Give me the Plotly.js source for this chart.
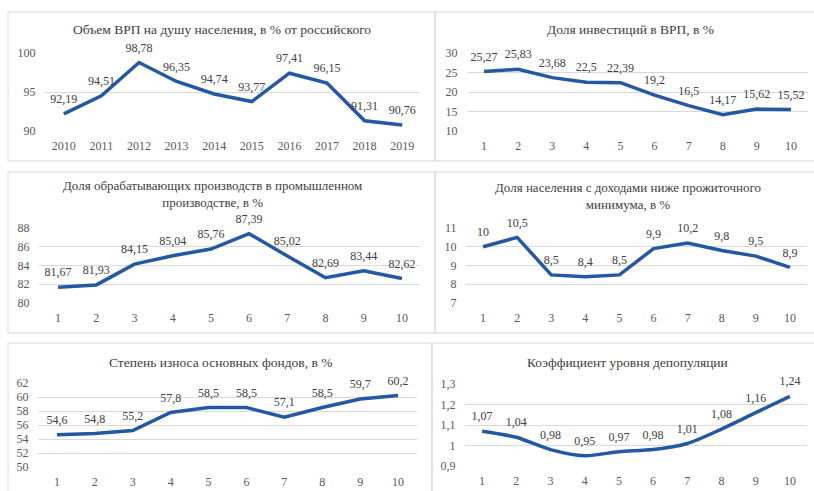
<!DOCTYPE html>
<html>
<head>
<meta charset="utf-8">
<script src="https://cdn.plot.ly/plotly-3.0.1.min.js"></script>
<style>html,body{margin:0;padding:0;background:#fff;}#chart{width:814px;height:491px;}</style>
</head>
<body>
<div id="chart"></div>
<script>
// ---- data ----
const years = ['2010','2011','2012','2013','2014','2015','2016','2017','2018','2019'];
const periods = ['1','2','3','4','5','6','7','8','9','10'];
const grpPerCapita = [92.19, 94.51, 98.78, 96.35, 94.74, 93.77, 97.41, 96.15, 91.31, 90.76];
const investShare = [25.27, 25.83, 23.68, 22.5, 22.39, 19.2, 16.5, 14.17, 15.62, 15.52];
const manufShare = [81.67, 81.93, 84.15, 85.04, 85.76, 87.39, 85.02, 82.69, 83.44, 82.62];
const povertyShare = [10, 10.5, 8.5, 8.4, 8.5, 9.9, 10.2, 9.8, 9.5, 8.9];
const assetWear = [54.6, 54.8, 55.2, 57.8, 58.5, 58.5, 57.1, 58.5, 59.7, 60.2];
const depopCoef = [1.07, 1.04, 0.98, 0.95, 0.97, 0.98, 1.01, 1.08, 1.16, 1.24];
const titles = [
  'Объем ВРП на душу населения, в % от российского',
  'Доля инвестиций в ВРП, в %',
  'Доля обрабатывающих производств в промышленном<br>производстве, в %',
  'Доля населения с доходами ниже прожиточного<br>минимума, в %',
  'Степень износа основных фондов, в %',
  'Коэффициент уровня депопуляции'
];

// ---- layout helpers ----
const W = 814, H = 491;
const fx = p => p / W;
const fy = p => 1 - p / H;
const FONT = '"Liberation Serif", "Times New Roman", serif';
const LINE = '#2457a4';
const GRID = '#d9d9d9';

const panels = [
  {cats: years,   vals: grpPerCapita, range: [90, 100], dtick: 5,   xd: [45, 421],  yd: [53, 131],  title: titles[0], tx: 222, ty: 30,  ts: 13.5, shape: 'linear'},
  {cats: periods, vals: investShare,  range: [10, 30],  dtick: 5,   xd: [467, 808], yd: [53, 131],  title: titles[1], tx: 630, ty: 30,  ts: 13.5, shape: 'linear'},
  {cats: periods, vals: manufShare,   range: [80, 88],  dtick: 2,   xd: [39, 421],  yd: [228, 303], title: titles[2], tx: 212, ty: 194, ts: 13,   shape: 'linear'},
  {cats: periods, vals: povertyShare, range: [7, 11],   dtick: 1,   xd: [466, 807], yd: [228, 303], title: titles[3], tx: 628, ty: 196, ts: 13,   shape: 'linear'},
  {cats: periods, vals: assetWear,    range: [50, 62],  dtick: 2,   xd: [38, 417],  yd: [383, 467], title: titles[4], tx: 220, ty: 362, ts: 13.5, shape: 'linear'},
  {cats: periods, vals: depopCoef,    range: [0.9, 1.3], dtick: 0.1, xd: [465, 807], yd: [384, 466], title: titles[5], tx: 627, ty: 362, ts: 13.5, shape: 'spline'}
];

const boxes = [
  [8, 12, 435, 161], [435, 12, 816, 161],
  [8, 172, 435, 333], [435, 172, 816, 333],
  [8, 343, 432, 500], [432, 343, 816, 500]
];

const traces = [];
const layout = {
  width: W, height: H,
  margin: {l: 0, r: 0, t: 0, b: 0},
  paper_bgcolor: '#ffffff',
  plot_bgcolor: 'rgba(0,0,0,0)',
  showlegend: false,
  separators: ', ',
  font: {family: FONT, size: 12, color: '#404040'},
  annotations: [],
  shapes: boxes.map(b => ({
    type: 'rect', xref: 'paper', yref: 'paper',
    x0: fx(b[0]), x1: fx(b[2]), y0: fy(b[3]), y1: fy(b[1]),
    line: {color: GRID, width: 1}, fillcolor: 'rgba(0,0,0,0)', layer: 'below'
  }))
};

panels.forEach((p, i) => {
  const n = i + 1;
  const xa = n === 1 ? 'xaxis' : 'xaxis' + n;
  const ya = n === 1 ? 'yaxis' : 'yaxis' + n;
  traces.push({
    type: 'scatter',
    mode: 'lines+markers+text',
    x: p.cats, y: p.vals,
    xaxis: 'x' + (n === 1 ? '' : n), yaxis: 'y' + (n === 1 ? '' : n),
    line: {color: LINE, width: 3.5, shape: p.shape, smoothing: 0.8},
    marker: {size: 11, color: 'rgba(0,0,0,0)'},
    text: p.vals.map(v => String(v).replace('.', ',')),
    textposition: 'top center',
    textfont: {family: FONT, size: 12, color: '#404040'},
    cliponaxis: false,
    hoverinfo: 'skip'
  });
  layout[xa] = {
    domain: [fx(p.xd[0]), fx(p.xd[1])],
    anchor: 'y' + (n === 1 ? '' : n),
    type: 'category',
    range: [-0.5, p.cats.length - 0.5],
    showgrid: false, zeroline: false, showline: false,
    ticks: 'outside', ticklen: 4, tickcolor: 'rgba(0,0,0,0)',
    tickfont: {family: FONT, size: 12, color: '#595959'},
    fixedrange: true
  };
  layout[ya] = {
    domain: [fy(p.yd[1]), fy(p.yd[0])],
    anchor: 'x' + (n === 1 ? '' : n),
    range: p.range, dtick: p.dtick, tick0: p.range[0],
    showgrid: true, gridcolor: GRID, gridwidth: 1,
    zeroline: false, showline: false,
    ticks: 'outside', ticklen: 6, tickcolor: 'rgba(0,0,0,0)',
    tickfont: {family: FONT, size: 12, color: '#595959'},
    fixedrange: true
  };
  layout.annotations.push({
    xref: 'paper', yref: 'paper', x: fx(p.tx), y: fy(p.ty),
    xanchor: 'center', yanchor: 'middle', showarrow: false,
    text: p.title, align: 'center',
    font: {family: FONT, size: p.ts, color: '#404040'}
  });
});

Plotly.newPlot('chart', traces, layout, {displayModeBar: false, staticPlot: true});
</script>
</body>
</html>
